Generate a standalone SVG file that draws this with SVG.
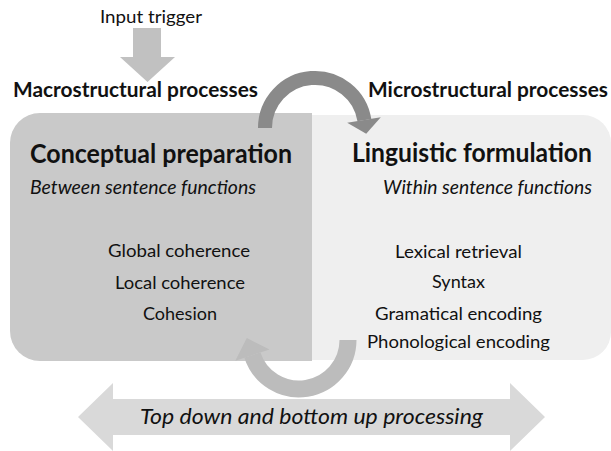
<svg xmlns="http://www.w3.org/2000/svg" width="611" height="451" viewBox="0 0 611 451">
<style>
text{font-family:Lato,"Open Sans","Liberation Sans",sans-serif;fill:#111;}
.hd{font-weight:bold;font-size:20.5px;}
.ti{font-weight:bold;font-size:26.5px;}
.it{font-style:italic;font-size:19.5px;}
.li{font-size:17.5px;text-anchor:middle;}
.bt{font-style:italic;font-size:21.5px;}
.m{text-anchor:middle;}
.e{text-anchor:end;}
</style>
<rect width="611" height="451" fill="#ffffff"/>
<g id="conceptual">
<path d="M40 113H312V361H40A30 30 0 0 1 10 331V143A30 30 0 0 1 40 113Z" fill="#c9c9c9"/>
<text class="ti" x="30" y="163" textLength="262" lengthAdjust="spacingAndGlyphs">Conceptual preparation</text>
<text class="it" x="30" y="194" textLength="226" lengthAdjust="spacingAndGlyphs">Between sentence functions</text>
<text class="li" x="179" y="257" textLength="142" lengthAdjust="spacingAndGlyphs">Global coherence</text>
<text class="li" x="180" y="289" textLength="130" lengthAdjust="spacingAndGlyphs">Local coherence</text>
<text class="li" x="180" y="320" textLength="74" lengthAdjust="spacingAndGlyphs">Cohesion</text>
</g>
<g id="linguistic">
<path d="M312 115H583A28 28 0 0 1 611 143V332A28 28 0 0 1 583 360H312Z" fill="#efefef"/>
<text class="ti m" x="472" y="162" textLength="240" lengthAdjust="spacingAndGlyphs">Linguistic formulation</text>
<text class="it e" x="592" y="194" textLength="209" lengthAdjust="spacingAndGlyphs">Within sentence functions</text>
<text class="li" x="458.5" y="258" textLength="127" lengthAdjust="spacingAndGlyphs">Lexical retrieval</text>
<text class="li" x="458.5" y="288" textLength="53" lengthAdjust="spacingAndGlyphs">Syntax</text>
<text class="li" x="458.5" y="320" textLength="167" lengthAdjust="spacingAndGlyphs">Gramatical encoding</text>
<text class="li" x="458.5" y="348" textLength="183" lengthAdjust="spacingAndGlyphs">Phonological encoding</text>
</g>
<g id="input">
<text x="100" y="23" font-size="16.5" textLength="102" lengthAdjust="spacingAndGlyphs">Input trigger</text>
</g>
<g id="macro">
<text class="hd" x="13" y="97" textLength="245" lengthAdjust="spacingAndGlyphs">Macrostructural processes</text>
</g>
<g id="micro">
<text class="hd e" x="608" y="97" textLength="240" lengthAdjust="spacingAndGlyphs">Microstructural processes</text>
</g>
<g id="connectors">
<polygon points="133,28 161,28 161,57 175,57 147.5,82 120,57 133,57" fill="#c1c1c1"/>
<path d="M265 128A50 50 0 0 1 364.4 120.2" fill="none" stroke="#8a8a8a" stroke-width="14"/>
<polygon points="347.2,122.7 380.8,117.3 366.2,133.8" fill="#8a8a8a"/>
<path d="M348 340A49 49 0 0 1 252.4 355.1" fill="none" stroke="#bcbcbc" stroke-width="17"/>
<polygon points="269.5,349.5 235.3,360.7 246.8,338" fill="#bcbcbc"/>
<polygon points="78,417 113,383 113,399 510,399 510,383 545,417 510,451 510,435 113,435 113,451" fill="#d9d9d9"/>
<text class="bt" x="140" y="424" textLength="343" lengthAdjust="spacingAndGlyphs">Top down and bottom up processing</text>
</g>
</svg>
